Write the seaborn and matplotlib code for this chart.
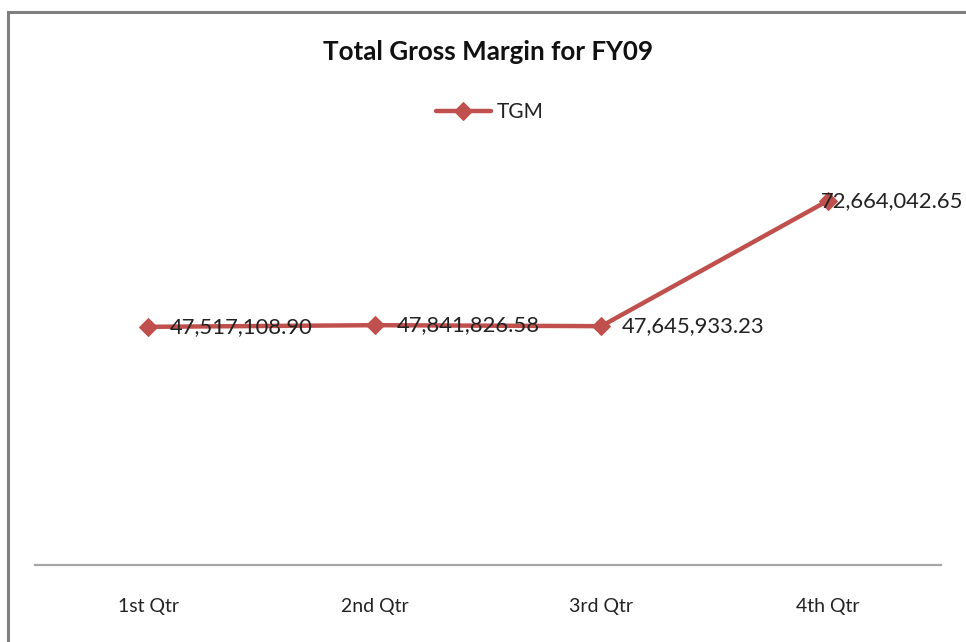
import matplotlib
matplotlib.use("Agg")
import matplotlib.pyplot as plt
import seaborn as sns
import pandas as pd
from matplotlib.patches import Rectangle

quarters = ["1st Qtr", "2nd Qtr", "3rd Qtr", "4th Qtr"]
tgm = [47517108.90, 47841826.58, 47645933.23, 72664042.65]
labels = ["47,517,108.90", "47,841,826.58", "47,645,933.23", "72,664,042.65"]
series_name = "TGM"
title = "Total Gross Margin for FY09"

df = pd.DataFrame({"Quarter": quarters, "TGM": tgm})

sns.set_theme(style="white")
plt.rcParams["font.family"] = ["Lato", "DejaVu Sans"]

W, H = 966, 642
fig = plt.figure(figsize=(W / 100, H / 100), dpi=100)
fig.patch.set_facecolor("white")

ax = fig.add_axes([35 / W, (H - 565) / H, 906 / W, 401 / H])
red = "#C0504D"
sns.lineplot(data=df, x="Quarter", y="TGM", ax=ax, color=red, linewidth=3.2,
             marker="D", markersize=9.5, markeredgecolor=red, label=series_name,
             sort=False)

ax.set_xlim(-0.5, 3.5)
ax.set_ylim(0, 80000000)
ax.set_yticks([])
ax.set_xlabel("")
ax.set_ylabel("")
for s in ["top", "right", "left"]:
    ax.spines[s].set_visible(False)
ax.spines["bottom"].set_color("#A6A6A6")
ax.spines["bottom"].set_linewidth(1.6)
ax.tick_params(axis="x", length=0, pad=24, labelsize=14, labelcolor="#222222")
ax.set_facecolor("white")

offsets = [22, 22, 21, -7]
for i, (v, lab) in enumerate(zip(tgm, labels)):
    ax.annotate(lab, (i, v), xytext=(offsets[i], 0), textcoords="offset pixels",
                ha="left", va="center", fontsize=15.8, color="#222222")

ax.get_legend().remove()
handles, lbls = ax.get_legend_handles_labels()
leg = fig.legend(handles, lbls, loc="center", bbox_to_anchor=(490 / W, 1 - 112 / H),
                 frameon=False, fontsize=15, handlelength=2.6, handletextpad=0.3)
for t in leg.get_texts():
    t.set_color("#222222")

fig.text(488 / W, 1 - 52 / H, title, ha="center", va="center",
         fontsize=18.7, fontweight="bold", color="#111111")

fig.patches.append(Rectangle((8 / W, -0.1), 1.2, 1 - 12 / H + 0.1,
                             transform=fig.transFigure, fill=False,
                             edgecolor="#7F7F7F", linewidth=2.2))

fig.savefig("out.png", dpi=100, facecolor="white")
